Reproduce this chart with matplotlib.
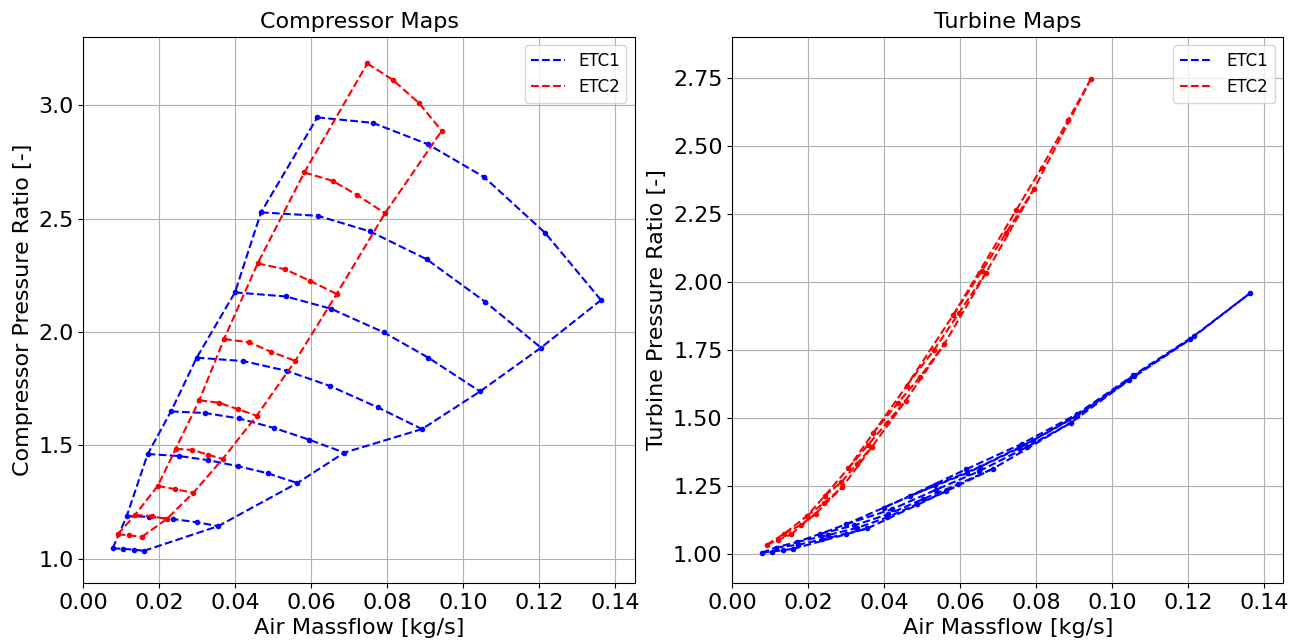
import matplotlib
matplotlib.use("Agg")
import matplotlib.pyplot as plt

# ---------------- ETC1 compressor (speed lines, surge -> choke) ----------------
etc1_mdot = [
    [0.00774, 0.01037, 0.01334, 0.01597],
    [0.01142, 0.01737, 0.02368, 0.02984, 0.03553],
    [0.01695, 0.02526, 0.03289, 0.04079, 0.04853, 0.05632],
    [0.02308, 0.03203, 0.04097, 0.05018, 0.05947, 0.06868],
    [0.02984, 0.04211, 0.05353, 0.06492, 0.07747, 0.08913],
    [0.03992, 0.05334, 0.06518, 0.07903, 0.09079, 0.10439],
    [0.04676, 0.06168, 0.07545, 0.09037, 0.10571, 0.12044],
    [0.06158, 0.07616, 0.09063, 0.10553, 0.12150, 0.13624],
]
etc1_cpr = [
    [1.046, 1.044, 1.040, 1.035],
    [1.188, 1.185, 1.175, 1.161, 1.144],
    [1.462, 1.453, 1.435, 1.408, 1.377, 1.334],
    [1.650, 1.643, 1.619, 1.577, 1.525, 1.468],
    [1.887, 1.872, 1.829, 1.762, 1.668, 1.572],
    [2.175, 2.157, 2.103, 1.999, 1.887, 1.738],
    [2.528, 2.513, 2.444, 2.321, 2.134, 1.931],
    [2.947, 2.923, 2.829, 2.683, 2.438, 2.141],
]
etc1_tpr = [
    [1.006, 1.010, 1.015, 1.020],
    [1.025, 1.035, 1.055, 1.076, 1.095],
    [1.045, 1.071, 1.097, 1.136, 1.184, 1.232],
    [1.075, 1.106, 1.147, 1.203, 1.258, 1.315],
    [1.110, 1.166, 1.237, 1.305, 1.394, 1.484],
    [1.172, 1.253, 1.322, 1.418, 1.509, 1.640],
    [1.215, 1.298, 1.390, 1.507, 1.656, 1.790],
    [1.313, 1.406, 1.515, 1.658, 1.803, 1.960],
]

# ---------------- ETC2 compressor ----------------
etc2_mdot = [
    [0.00905, 0.01211, 0.01545],
    [0.01361, 0.01800, 0.02195],
    [0.01958, 0.02413, 0.02895],
    [0.02432, 0.02868, 0.03282, 0.03668],
    [0.03053, 0.03579, 0.04063, 0.04563],
    [0.03703, 0.04368, 0.04939, 0.05579],
    [0.04589, 0.05308, 0.05966, 0.06668],
    [0.05816, 0.06563, 0.07211, 0.07939],
    [0.07474, 0.08142, 0.08834, 0.09432],
]
etc2_cpr = [
    [1.108, 1.103, 1.097],
    [1.193, 1.188, 1.175],
    [1.321, 1.307, 1.291],
    [1.485, 1.480, 1.459, 1.440],
    [1.699, 1.688, 1.660, 1.631],
    [1.969, 1.955, 1.913, 1.873],
    [2.303, 2.277, 2.226, 2.168],
    [2.704, 2.667, 2.604, 2.524],
    [3.185, 3.113, 3.010, 2.888],
]
etc2_tpr = [
    [1.035, 1.053, 1.073],
    [1.075, 1.108, 1.150],
    [1.140, 1.189, 1.247],
    [1.215, 1.265, 1.333, 1.394],
    [1.316, 1.403, 1.483, 1.565],
    [1.445, 1.558, 1.652, 1.773],
    [1.620, 1.751, 1.888, 2.033],
    [1.880, 2.041, 2.183, 2.343],
    [2.266, 2.422, 2.596, 2.746],
]

series = [("ETC1", "blue", etc1_mdot, etc1_cpr, etc1_tpr),
          ("ETC2", "red", etc2_mdot, etc2_cpr, etc2_tpr)]

W, H = 1302, 640
fig = plt.figure(figsize=(W / 100, H / 100), dpi=100)
ax1 = fig.add_axes([83.3 / W, (H - 583) / H, 551.4 / W, 546.3 / H])
ax2 = fig.add_axes([732.3 / W, (H - 583) / H, 551.0 / W, 546.3 / H])


def draw_map(ax, xs_list, ys_list, color, label):
    first = True
    for xs, ys in zip(xs_list, ys_list):
        ax.plot(xs, ys, "--", color=color, lw=1.5, label=label if first else None)
        ax.plot(xs, ys, ".", color=color, ms=6)
        first = False
    surge_x = [xs[0] for xs in xs_list]
    surge_y = [ys[0] for ys in ys_list]
    choke_x = [xs[-1] for xs in xs_list]
    choke_y = [ys[-1] for ys in ys_list]
    ax.plot(surge_x, surge_y, "--", color=color, lw=1.5)
    ax.plot(choke_x, choke_y, "--", color=color, lw=1.5)


for label, color, md, cpr, tpr in series:
    draw_map(ax1, md, cpr, color, label)
    draw_map(ax2, md, tpr, color, label)

ax1.set_xlim(0, 0.1451)
ax1.set_ylim(0.893, 3.303)
ax2.set_xlim(0, 0.1450)
ax2.set_ylim(0.8945, 2.903)
ax1.set_xticks([0.00, 0.02, 0.04, 0.06, 0.08, 0.10, 0.12, 0.14])
ax2.set_xticks([0.00, 0.02, 0.04, 0.06, 0.08, 0.10, 0.12, 0.14])
ax1.set_yticks([1.0, 1.5, 2.0, 2.5, 3.0])
ax2.set_yticks([1.00, 1.25, 1.50, 1.75, 2.00, 2.25, 2.50, 2.75])

for ax, title, ylab in [(ax1, "Compressor Maps", "Compressor Pressure Ratio [-]"),
                        (ax2, "Turbine Maps", "Turbine Pressure Ratio [-]")]:
    ax.set_title(title, fontsize=16)
    ax.set_xlabel("Air Massflow [kg/s]", fontsize=16)
    ax.set_ylabel(ylab, fontsize=16)
    ax.tick_params(labelsize=16)
    ax.grid(True, color="#b0b0b0", lw=0.8)
    ax.legend(loc="upper right", fontsize=12)

ax1.yaxis.set_major_formatter(matplotlib.ticker.FormatStrFormatter("%.1f"))
ax2.yaxis.set_major_formatter(matplotlib.ticker.FormatStrFormatter("%.2f"))
ax1.xaxis.set_major_formatter(matplotlib.ticker.FormatStrFormatter("%.2f"))
ax2.xaxis.set_major_formatter(matplotlib.ticker.FormatStrFormatter("%.2f"))

fig.savefig("out.png", dpi=100)
